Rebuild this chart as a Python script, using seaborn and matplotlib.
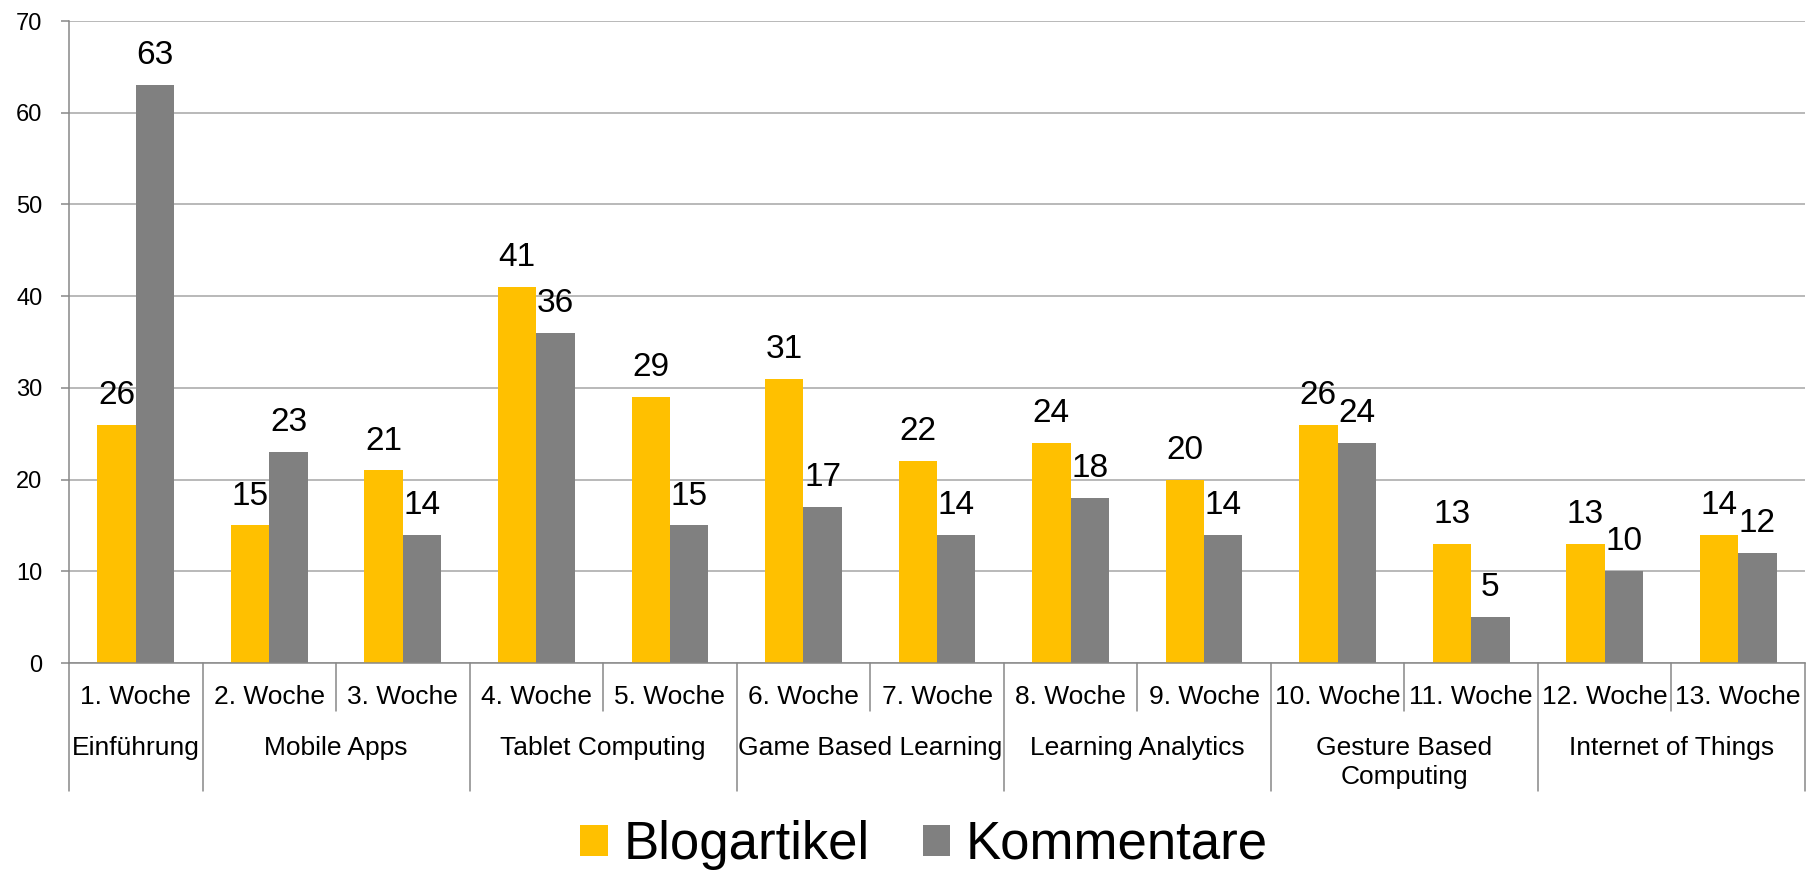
import matplotlib
matplotlib.use("Agg")
import matplotlib.pyplot as plt
import seaborn as sns
import pandas as pd

weeks = ["1. Woche", "2. Woche", "3. Woche", "4. Woche", "5. Woche", "6. Woche",
         "7. Woche", "8. Woche", "9. Woche", "10. Woche", "11. Woche", "12. Woche",
         "13. Woche"]
topics = ["Einführung", "Mobile Apps", "Mobile Apps", "Tablet Computing",
          "Tablet Computing", "Game Based Learning", "Game Based Learning",
          "Learning Analytics", "Learning Analytics", "Gesture Based\nComputing",
          "Gesture Based\nComputing", "Internet of Things", "Internet of Things"]
blogartikel = [26, 15, 21, 41, 29, 31, 22, 24, 20, 26, 13, 13, 14]
kommentare = [63, 23, 14, 36, 15, 17, 14, 18, 14, 24, 5, 10, 12]
series = ["Blogartikel", "Kommentare"]
colors = ["#FFC000", "#808080"]
yticks = [0, 10, 20, 30, 40, 50, 60, 70]

df = pd.DataFrame({
    "Woche": weeks * 2,
    "Wert": blogartikel + kommentare,
    "Reihe": [series[0]] * len(weeks) + [series[1]] * len(weeks),
})

sns.set_style("white")
plt.rcParams["font.family"] = ["Liberation Sans", "DejaVu Sans"]
plt.rcParams["text.color"] = "black"
plt.rcParams["ytick.labelcolor"] = "black"
plt.rcParams["ytick.labelsize"] = 17

fig = plt.figure(figsize=(18.12, 8.71), dpi=100)
ax = fig.add_axes([69 / 1812, 1 - 663 / 871, (1805 - 69) / 1812, (663 - 21) / 871])

sns.barplot(data=df, x="Woche", y="Wert", hue="Reihe", hue_order=series,
            order=weeks, palette=colors, width=0.575, saturation=1,
            edgecolor="none", linewidth=0, ax=ax)

for cont in ax.containers:
    ax.bar_label(cont, fontsize=24, padding=10, color="black")

axis_col = "#888888"
grid_col = "#A6A6A6"
ax.set_ylim(0, 70)
ax.set_xlim(-0.5, len(weeks) - 0.5)
ax.set_yticks(yticks)
ax.yaxis.grid(True, color=grid_col, linewidth=1.1)
ax.set_axisbelow(True)
ax.tick_params(axis="y", labelsize=17, labelcolor="black", length=6, width=1.1,
               color=axis_col, pad=13, left=True, direction="out")
ax.tick_params(axis="x", length=0, labelbottom=False)
ax.set_xlabel("")
ax.set_ylabel("")
for s in ["top", "right"]:
    ax.spines[s].set_visible(False)
for s in ["left", "bottom"]:
    ax.spines[s].set_color(axis_col)
    ax.spines[s].set_linewidth(1.1)

trans = ax.get_xaxis_transform()
h_ax = 663 - 21
y_week = -(697 - 663) / h_ax
y_week_sep = -(711 - 663) / h_ax
y_group_sep = -(791 - 663) / h_ax
y_group_top = -(736 - 663) / h_ax

for i, w in enumerate(weeks):
    ax.text(i, y_week, w, transform=trans, ha="center", va="center",
            fontsize=19, color="black", clip_on=False)

# group the consecutive weeks by topic
groups = []
start = 0
for i in range(1, len(topics) + 1):
    if i == len(topics) or topics[i] != topics[start]:
        groups.append((start, i - 1, topics[start]))
        start = i

group_bounds = set()
for a, b, name in groups:
    group_bounds.add(a - 0.5)
    group_bounds.add(b + 0.5)
    ax.text((a + b) / 2, y_group_top, name, transform=trans, ha="center",
            va="top", fontsize=19, linespacing=1.25, color="black", clip_on=False)

for k in range(len(weeks) + 1):
    xb = k - 0.5
    bottom = y_group_sep if xb in group_bounds else y_week_sep
    ax.plot([xb, xb], [0, bottom], transform=trans, color=axis_col,
            linewidth=1.1, clip_on=False)

handles, labels = ax.get_legend_handles_labels()
if ax.get_legend() is not None:
    ax.get_legend().remove()
fig.legend(handles, labels, loc="center", bbox_to_anchor=(0.51, 0.03),
           ncol=2, frameon=False, fontsize=38, handlelength=0.52,
           handleheight=0.52, handletextpad=0.3, columnspacing=1.0,
           borderaxespad=0, labelcolor="black")

fig.savefig("out.png", dpi=100)
